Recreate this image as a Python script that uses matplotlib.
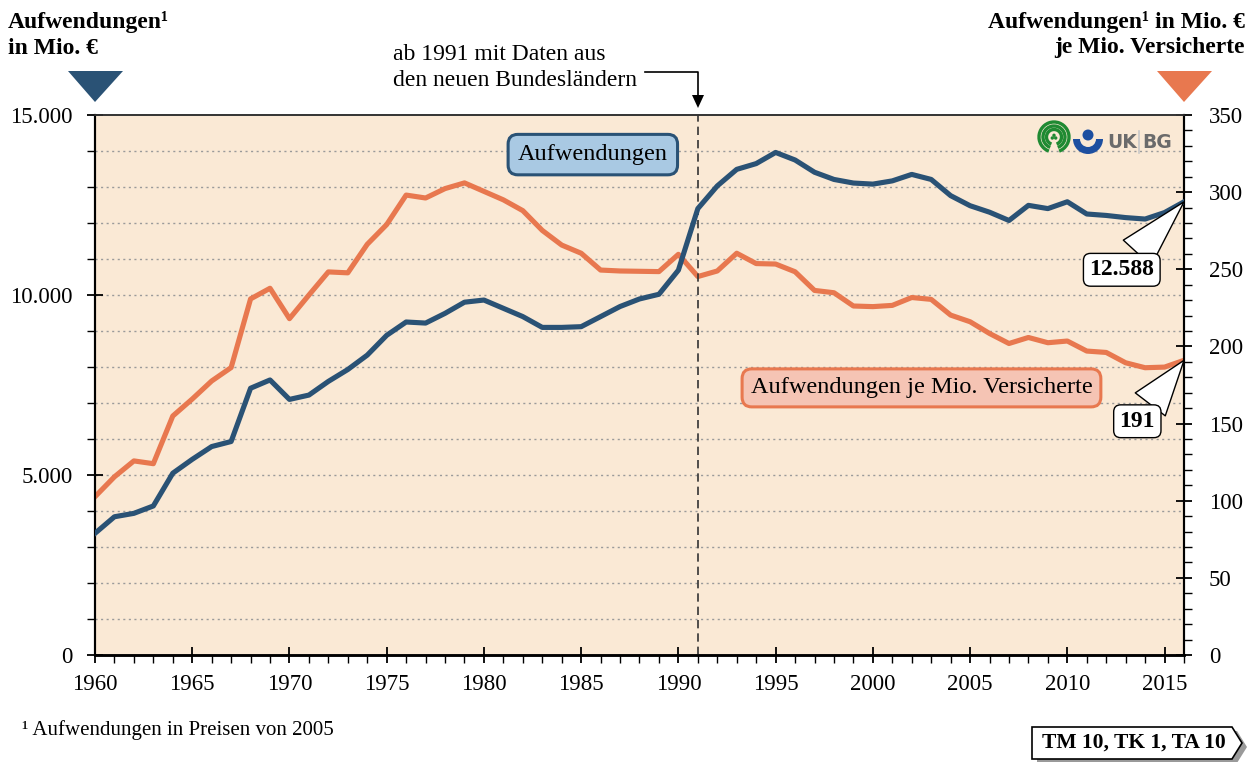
import numpy as np
import matplotlib.pyplot as plt
from matplotlib.patches import Polygon, Arc, Circle, Wedge
from matplotlib.ticker import MultipleLocator, FuncFormatter

plt.rcParams['font.family'] = ['Liberation Serif', 'DejaVu Serif']

years = np.arange(1960, 2017)

# Aufwendungen in Mio. EUR (Preise von 2005), left axis
aufwendungen = [3380, 3840, 3935, 4140, 5050, 5435, 5790, 5930, 7410, 7640,
                7100, 7220, 7600, 7930, 8330, 8880, 9250, 9220, 9490, 9800,
                9860, 9630, 9400, 9100, 9100, 9120, 9400, 9680, 9890, 10020,
                10690, 12400, 13030, 13490, 13650, 13960, 13750, 13410, 13210, 13110,
                13080, 13170, 13350, 13210, 12760, 12480, 12300, 12070, 12490, 12400,
                12590, 12250, 12210, 12150, 12110, 12290, 12588]

# Aufwendungen in Mio. EUR je Mio. Versicherte, right axis
je_versicherte = [102.6, 115.5, 125.8, 124.0, 154.9, 165.9, 177.6, 186.3, 230.8, 237.7,
                  218.0, 233.3, 248.3, 247.7, 266.2, 279.0, 298.1, 296.2, 302.3, 306.0,
                  300.5, 295.0, 288.0, 275.2, 265.7, 260.4, 249.5, 248.9, 248.7, 248.5,
                  259.7, 245.3, 248.9, 260.4, 253.7, 253.4, 248.4, 236.3, 234.8, 226.2,
                  225.8, 226.6, 231.7, 230.5, 220.3, 216.0, 208.4, 201.9, 205.8, 202.4,
                  203.5, 197.0, 196.1, 189.4, 186.2, 186.6, 191.0]

left_ticks = [0, 5000, 10000, 15000]
right_ticks = [0, 50, 100, 150, 200, 250, 300, 350]
x_ticks = np.arange(1960, 2016, 5)

blue = '#2a5275'
orange = '#e8784f'
bg = '#fae9d5'

W, H = 1250, 762
fig = plt.figure(figsize=(W / 100, H / 100), dpi=100)

def fx(px):
    return px / W

def fy(py):
    return 1 - py / H

ax2 = fig.add_axes([fx(95), fy(655), fx(1184) - fx(95), fy(115) - fy(655)])
ax = ax2.twinx()
ax.yaxis.tick_left()
ax2.yaxis.tick_right()
ax.set_zorder(ax2.get_zorder() + 1)
ax.patch.set_visible(False)
ax2.set_facecolor(bg)

ax.set_xlim(1960, 2016)
ax.set_ylim(0, 15000)
ax2.set_ylim(0, 350)

# dotted grid lines every 1000 on the left scale
ratio = 350 / 15000
ax2.hlines(np.arange(1000, 15000, 1000) * ratio, 1960, 2016, colors='#9a9a9a',
           linestyles=(0, (1.5, 2.5)), linewidth=1.0, zorder=1)

ax2.plot(years, je_versicherte, color=orange, lw=3.7, zorder=3)
ax.plot(years, aufwendungen, color=blue, lw=3.7, zorder=3)

ax.axvline(1991, color='#333333', lw=1.2, ls=(0, (5, 3)), zorder=2)

# ticks
fmt = FuncFormatter(lambda v, p: f'{int(v):,}'.replace(',', '.'))
ax.set_yticks(left_ticks)
ax.yaxis.set_major_formatter(fmt)
ax.yaxis.set_minor_locator(MultipleLocator(1000))
ax2.set_yticks(right_ticks)
ax2.yaxis.set_minor_locator(MultipleLocator(10))
ax2.set_xticks(x_ticks)
ax2.xaxis.set_minor_locator(MultipleLocator(1))
ax.tick_params(axis='y', which='major', direction='inout', length=12, width=1.3,
               labelsize=16.5, pad=10)
ax.tick_params(axis='y', which='minor', direction='out', length=6, width=1)
ax2.tick_params(axis='y', which='major', direction='inout', length=12, width=1.3,
                labelsize=16.5, pad=12)
ax2.tick_params(axis='y', which='minor', direction='out', length=6, width=1)
ax2.tick_params(axis='x', which='major', direction='inout', length=12, width=1.3,
                labelsize=16.5, pad=8)
ax2.tick_params(axis='x', which='minor', direction='out', length=6, width=1)
ax.tick_params(axis='x', which='both', length=0)

for a in (ax, ax2):
    a.spines['top'].set_linewidth(1.2)
    a.spines['top'].set_color('#333333')
    a.spines['left'].set_linewidth(1.5)
    a.spines['right'].set_linewidth(1.5)
    a.spines['bottom'].set_linewidth(1.8)

# series labels
ax.text(1985.6, 13900, 'Aufwendungen', ha='center', va='center', fontsize=17.5, zorder=5,
        bbox=dict(boxstyle='round,pad=0.4,rounding_size=0.4', fc='#a9c9e3', ec=blue, lw=2.2))
ax.text(2002.5, 7420, 'Aufwendungen je Mio. Versicherte', ha='center', va='center',
        fontsize=17.5, zorder=5,
        bbox=dict(boxstyle='round,pad=0.35,rounding_size=0.4', fc='#f5c4b4', ec=orange, lw=2.2))

# end value callouts
wedge = dict(arrowstyle='wedge,tail_width=1.6,shrink_factor=0.5', fc='white',
             ec='black', lw=1, shrinkA=0, shrinkB=0)
ax.annotate('12.588', xy=(years[-1], aufwendungen[-1]), xytext=(2012.8, 10700),
            ha='center', va='center', fontsize=17, fontweight='bold', zorder=6,
            bbox=dict(boxstyle='round,pad=0.25,rounding_size=0.3', fc='white', ec='black', lw=1),
            arrowprops=wedge)
ax2.annotate(f'{je_versicherte[-1]:.0f}', xy=(years[-1], je_versicherte[-1]),
             xytext=(2013.6, 151.5), ha='center', va='center', fontsize=17,
             fontweight='bold', zorder=6,
             bbox=dict(boxstyle='round,pad=0.25,rounding_size=0.3', fc='white', ec='black', lw=1),
             arrowprops=wedge)

# headers
fig.text(fx(8), fy(22), 'Aufwendungen¹', ha='left', va='center', fontsize=17, fontweight='bold')
fig.text(fx(8), fy(48), 'in Mio. €', ha='left', va='center', fontsize=17, fontweight='bold')
fig.text(fx(1245), fy(22), 'Aufwendungen¹ in Mio. €', ha='right', va='center', fontsize=17,
         fontweight='bold')
fig.text(fx(1245), fy(48), 'je Mio. Versicherte', ha='right', va='center', fontsize=17,
         fontweight='bold')

fig.patches.append(Polygon([(fx(68), fy(71)), (fx(123), fy(71)), (fx(95), fy(102))],
                           closed=True, transform=fig.transFigure, fc=blue, ec='none'))
fig.patches.append(Polygon([(fx(1157), fy(71)), (fx(1212), fy(71)), (fx(1184), fy(102))],
                           closed=True, transform=fig.transFigure, fc=orange, ec='none'))

# note on 1991
fig.text(fx(393), fy(55), 'ab 1991 mit Daten aus', ha='left', va='center', fontsize=17)
fig.text(fx(393), fy(81), 'den neuen Bundesländern', ha='left', va='center', fontsize=17)
fig.lines.append(plt.Line2D([fx(645), fx(698), fx(698)], [fy(72), fy(72), fy(98)],
                            transform=fig.transFigure, color='black', lw=1.2))
fig.patches.append(Polygon([(fx(692), fy(95)), (fx(704), fy(95)), (fx(698), fy(108))],
                           closed=True, transform=fig.transFigure, fc='black', ec='none'))

# logo
tr = fig.dpi_scale_trans
gx, gy = 10.54, (H - 137) / 100
for r in (0.15, 0.11, 0.075):
    fig.patches.append(Arc((gx, gy), 2 * r, 2 * r, theta1=-70, theta2=250, transform=tr,
                           color='#1f8a32', lw=2.4))
for dx, dy in ((-0.017, -0.01), (0.017, -0.01), (0, 0.017)):
    fig.patches.append(Circle((gx + dx, gy + dy), 0.017, transform=tr, fc='#1f8a32', ec='none'))
bx, by = 10.88, (H - 139) / 100
fig.patches.append(Wedge((bx, by), 0.15, 180, 360, width=0.07, transform=tr, fc='#1d4fa0',
                         ec='none'))
fig.patches.append(Circle((bx, by + 0.04), 0.055, transform=tr, fc='#1d4fa0', ec='none'))
fig.text(fx(1107), fy(142), 'UK', ha='left', va='center', fontsize=13.5, fontweight='bold',
         color='#6b6b6b', family='DejaVu Sans')
fig.lines.append(plt.Line2D([fx(1139), fx(1139)], [fy(131), fy(153)],
                            transform=fig.transFigure, color='#c8c8c8', lw=1.2))
fig.text(fx(1142), fy(142), 'BG', ha='left', va='center', fontsize=13.5, fontweight='bold',
         color='#6b6b6b', family='DejaVu Sans')

# footnote and reference tag
fig.text(fx(22), fy(730), '¹ Aufwendungen in Preisen von 2005', ha='left', va='center',
         fontsize=15)
pts = [(1032, 727), (1232, 727), (1242, 743), (1232, 759), (1032, 759)]
shadow = [(fx(x + 5), fy(y + 4)) for x, y in pts]
fig.patches.append(Polygon(shadow, closed=True, transform=fig.transFigure, fc='#9a9a9a',
                           ec='none', hatch='||||'))
fig.patches.append(Polygon([(fx(x), fy(y)) for x, y in pts], closed=True,
                           transform=fig.transFigure, fc='white', ec='black', lw=1.2))
fig.text(fx(1134), fy(743), 'TM 10, TK 1, TA 10', ha='center', va='center', fontsize=15.5,
         fontweight='bold')

fig.savefig('out.png', dpi=100)
